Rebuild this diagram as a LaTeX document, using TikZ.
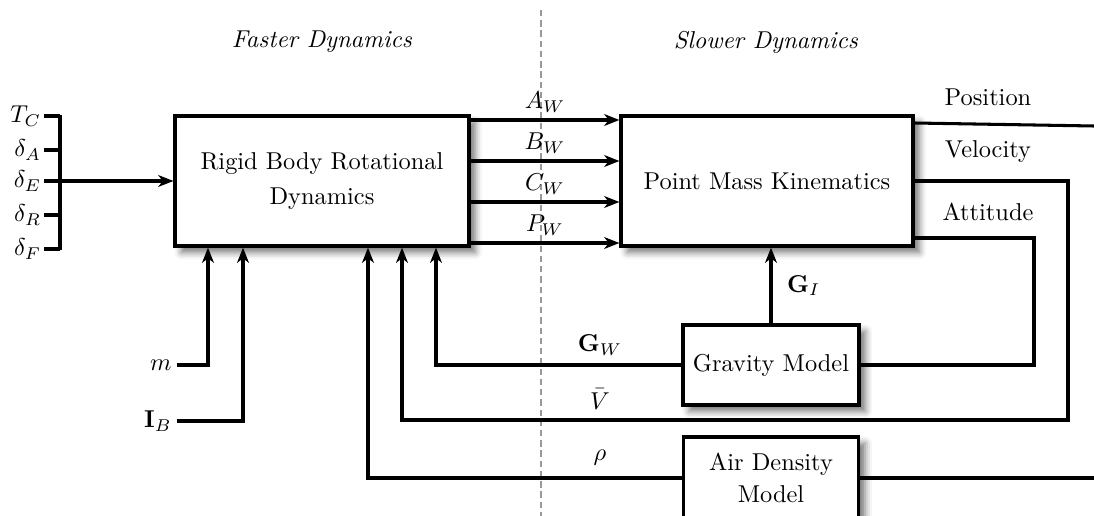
\documentclass[tikz,border=0pt]{standalone}
\usepackage{amssymb}
\usepackage{amsmath}
\usetikzlibrary{
	arrows.meta, positioning, calc, shadows.blur
}

\begin{document}
\begin{tikzpicture}[x=0.41pt,y=-0.41pt,
		blk/.style={draw,line width=1.3pt,fill=white,align=center,inner sep=2pt,
			blur shadow={shadow xshift=2.6pt,shadow yshift=-2.6pt,shadow blur radius=2.8pt,shadow opacity=55}},
		wire/.style={line width=1.25pt},
		sig/.style={line width=1.25pt,-{Stealth[length=6.2pt,width=4.8pt,inset=1.8pt]}}]
				\useasboundingbox (0,0) rectangle (1094,516);
				\draw[gray!80,line width=0.9pt,dash pattern=on 2.6pt off 1.6pt] (541,10) -- (541,530);
				\node (fast) at (322,42) {\textit{Faster Dynamics}};
				\node (slow) at (766,42) {\textit{Slower Dynamics}};
				\node[blk,minimum width=120.5pt,minimum height=53.3pt] (rb) at (322,181) {Rigid Body Rotational\\[2pt] Dynamics};
				\node[blk,minimum width=119.7pt,minimum height=53.3pt] (pmk) at (767,181) {Point Mass Kinematics};
				\node[blk,minimum width=72.2pt,minimum height=32.8pt] (grav) at (771,365) {Gravity Model};
				\node[blk,minimum width=72pt,minimum height=33.6pt] (air) at (771,478) {Air Density\\[1pt] Model};
				% control inputs
				\coordinate (bustop) at (60,116);
				\coordinate (busbot) at (60,249);
				\foreach \n/\lab/\y in {tc/T_C/116,da/\delta_A/150,de/\delta_E/181,dr/\delta_R/215,df/\delta_F/249}
					\node[anchor=east,inner sep=1pt] (\n) at (44,\y) {$\lab$};
				\foreach \n in {tc,da,de,dr,df}
					\draw[wire] (\n.east) -- (\n.east -| bustop);
				\draw[wire] ([yshift=0.6pt]bustop) -- ([yshift=-0.6pt]busbot);
				\draw[sig] (de.east -| bustop) -- (rb.west);
				% mass and inertia
				\node[anchor=east,inner sep=2pt] (m) at (177,365) {$m$};
				\node[anchor=east,inner sep=2pt] (ib) at (177,421) {$\mathbf{I}_B$};
				\draw[sig] (m.east) -| (208,0 |- rb.south);
				\draw[sig] (ib.east) -| (243,0 |- rb.south);
				% wind axis coefficients
				\foreach \y/\lab in {120/A_W,161/B_W,202/C_W,243/P_W}
					\draw[sig] (rb.east |- 0,\y) -- (pmk.west |- 0,\y) node[midway,above,inner sep=2.5pt] {$\lab$};
				% outputs
				\coordinate (posend) at (1094,126);
				\draw[wire] (pmk.east |- 0,123) -- (posend);
				\node (pos) at (988,97) {Position};
				\node (vel) at (988,152) {Velocity};
				\node (att) at (988,212) {Attitude};
				\draw[sig] (pmk.east) -| (1068,420) -| (402,0 |- rb.south);
				\draw[wire] (pmk.east |- 0,238) -| (1034,365) -- (grav.east);
				\draw[sig] (grav.north) -- (grav.north |- pmk.south) node[midway,right,inner sep=6pt] {$\mathbf{G}_I$};
				\draw[sig] (grav.west) -| (436,0 |- rb.south);
				\coordinate (airend) at (1094,478);
				\draw[wire] (airend) -- (air.east);
				\draw[sig] (air.west) -| (368,0 |- rb.south);
				\node[inner sep=1pt] (gw) at (600,345) {$\mathbf{G}_W$};
				\node[inner sep=1pt] (vb) at (600,399) {$\bar{V}$};
				\node[inner sep=1pt] (rho) at (600,458) {$\rho$};
			\end{tikzpicture}
\end{document}
